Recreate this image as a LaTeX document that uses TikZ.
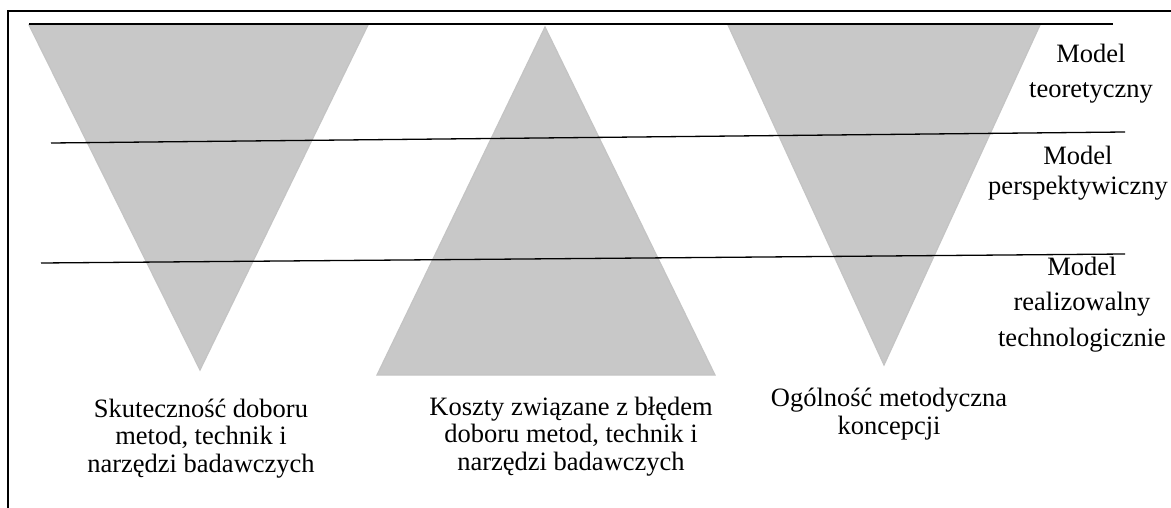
\documentclass[tikz,border=0pt]{standalone}
\usepackage{fontspec}
\setmainfont{Liberation Serif}
\begin{document}
\begin{tikzpicture}[x=1pt,y=-1pt,
  tri/.style={fill={rgb,255:red,200;green,200;blue,200}, draw={rgb,255:red,196;green,196;blue,196}, line width=1.2pt, line join=miter},
  frame/.style={draw=black, line width=2pt},
  level/.style={draw=black, line width=1.3pt},
  lbl/.style={align=center, inner sep=0pt, anchor=base, font=\fontsize{26.5}{27.5}\selectfont},
  side/.style={lbl, font=\fontsize{26.5}{35.5}\selectfont}]
\useasboundingbox (0,0) rectangle (1171,508);
% frame (left and top)
\coordinate (fb) at (8,508);
\coordinate (ftl) at (8,11);
\coordinate (ftr) at (1171,11);
\draw[frame] (fb) -- (ftl) -- (ftr);
% triangles
\coordinate (t1a) at (29,25); \coordinate (t1b) at (368,25); \coordinate (t1c) at (200,370);
\coordinate (t2a) at (545,27); \coordinate (t2b) at (377,375); \coordinate (t2c) at (715,375);
\coordinate (t3a) at (728,25); \coordinate (t3b) at (1040,25); \coordinate (t3c) at (884,365);
\path[tri] (t1a) -- (t1b) -- (t1c) -- cycle;
\path[tri] (t2a) -- (t2b) -- (t2c) -- cycle;
\path[tri] (t3a) -- (t3b) -- (t3c) -- cycle;
% level lines
\coordinate (l1a) at (29,24); \coordinate (l1b) at (1113,24);
\coordinate (l2a) at (51,143); \coordinate (l2b) at (1125,132);
\coordinate (l3a) at (41,263); \coordinate (l3b) at (1125,254);
\draw[level] (l1a) -- (l1b);
\draw[level] (l2a) -- (l2b);
\draw[level] (l3a) -- (l3b);
% side labels (anchor = baseline of last line)
\node[side] (mt) at (1091,98) {Model\\teoretyczny};
\node[lbl, font=\fontsize{26.5}{30}\selectfont] (mp) at (1078,195) {Model\\perspektywiczny};
\node[side] (mr) at (1082,346) {Model\\realizowalny\\technologicznie};
% bottom labels
\node[lbl] (b1) at (201,472) {Skuteczność doboru\\metod, technik i\\narzędzi badawczych};
\node[lbl] (b2) at (571,470) {Koszty związane z błędem\\doboru metod, technik i\\narzędzi badawczych};
\node[lbl] (b3) at (889,434) {Ogólność metodyczna\\koncepcji};
\end{tikzpicture}
\end{document}
